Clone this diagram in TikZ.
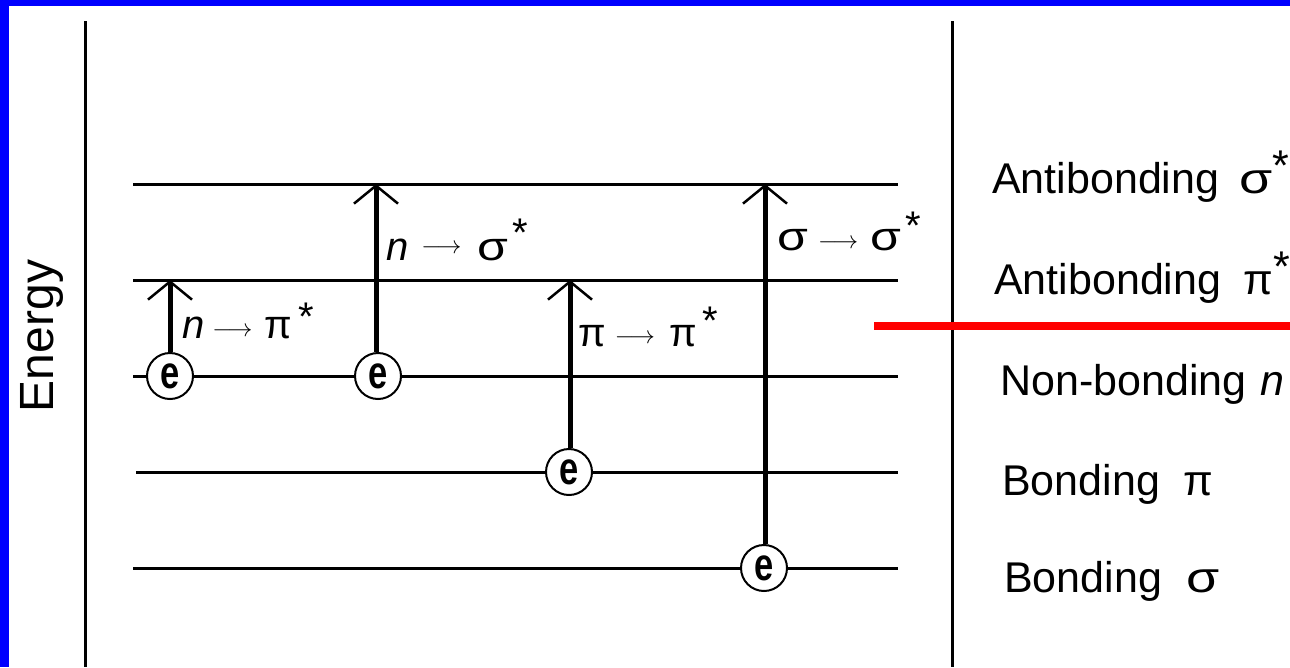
\documentclass[tikz,border=0pt]{standalone}
\usepackage{fontspec}
\setmainfont{Liberation Sans}
\usetikzlibrary{arrows.meta}
\newcommand{\elecE}{\scalebox{0.75}[1]{\fontsize{46}{46}\selectfont\bfseries e}}
\newcommand{\sig}{\scalebox{1.25}[1]{σ}}
\newcommand{\lto}[1]{\raisebox{#1}{\fontsize{32}{32}\selectfont$\longrightarrow$}}
\begin{document}
\begin{tikzpicture}[x=1pt,y=-1pt,
  lvl/.style={line width=3pt},
  axisline/.style={line width=3pt},
  elec/.style={circle, draw, fill=white, line width=2pt, minimum size=46pt, inner sep=0pt},
  trans/.style={line width=5pt, -{Straight Barb[length=18pt,width=44pt,line width=2.5pt]}},
  lab/.style={anchor=base west, inner sep=0pt, font=\fontsize{40}{40}\selectfont},
  orb/.style={anchor=base west, inner sep=0pt, font=\fontsize{43}{43}\selectfont},
]
\useasboundingbox (0,0) rectangle (1290,667);
% frame
\fill[blue] (0,0) rectangle (9,667);
\fill[blue] (0,0) rectangle (1290,6);
% axis lines
\coordinate (ax1a) at (85,21);  \coordinate (ax1b) at (85,667);
\coordinate (ax2a) at (952,21); \coordinate (ax2b) at (952,667);
\draw[axisline] (ax1a) -- (ax1b);
\draw[axisline] (ax2a) -- (ax2b);
% energy label
\node[rotate=90, anchor=base, inner sep=0pt, font=\fontsize{48}{48}\selectfont] (energy) at (53,336) {Energy};
% levels
\coordinate (l1a) at (133,184); \coordinate (l1b) at (898,184);
\coordinate (l2a) at (133,280); \coordinate (l2b) at (898,280);
\coordinate (l3a) at (133,376); \coordinate (l3b) at (898,376);
\coordinate (l4a) at (136,472); \coordinate (l4b) at (898,472);
\coordinate (l5a) at (133,568); \coordinate (l5b) at (898,568);
\foreach \l in {1,...,5}{\draw[lvl] (l\l a) -- (l\l b);}
% red line
\coordinate (ra) at (874,326); \coordinate (rb) at (1290,326);
\draw[red, line width=8pt] (ra) -- (rb);
% electrons
\node[elec] (e1) at (170,376) {\elecE};
\node[elec] (e2) at (378,376) {\elecE};
\node[elec] (e3) at (569,472) {\elecE};
\node[elec] (e4) at (764,568) {\elecE};
% arrow tips on the levels
\coordinate (t1) at (170,280);
\coordinate (t2) at (376,184);
\coordinate (t3) at (570,280);
\coordinate (t4) at (765,184);
\draw[trans] (e1.north) -- (t1);
\draw[trans] (e2.north -| t2) -- (t2);
\draw[trans] (e3.north -| t3) -- (t3);
\draw[trans] (e4.north -| t4) -- (t4);
% transition labels
\node[lab] (n1) at (182,338) {\textit{n}\hspace{8pt}\lto{2pt}\hspace{12pt}π\hspace{6pt}\raisebox{8pt}{*}};
\node[lab] (n2) at (386,260) {\textit{n}\hspace{13pt}\lto{7pt}\hspace{16pt}\sig\hspace{4pt}\raisebox{14pt}{*}};
\node[lab] (n3) at (578,346) {π\hspace{9pt}\lto{3pt}\hspace{15pt}π\hspace{5pt}\raisebox{12pt}{*}};
\node[lab] (n4) at (777,250) {\sig\hspace{10pt}\lto{2pt}\hspace{12pt}\sig\hspace{4pt}\raisebox{11pt}{*}};
% orbital names
\node[orb] (o1) at (992,193) {Antibonding\hspace{20pt}\sig\raisebox{13pt}{*}};
\node[orb] (o2) at (994,294) {Antibonding\hspace{22pt}π\raisebox{13pt}{*}};
\node[orb] (o3) at (1000,395) {Non-bonding\hspace{14pt}\textit{n}};
\node[orb] (o4) at (1002,495) {Bonding\hspace{24pt}π};
\node[orb] (o5) at (1004,592) {Bonding\hspace{24pt}\sig};
\end{tikzpicture}
\end{document}
